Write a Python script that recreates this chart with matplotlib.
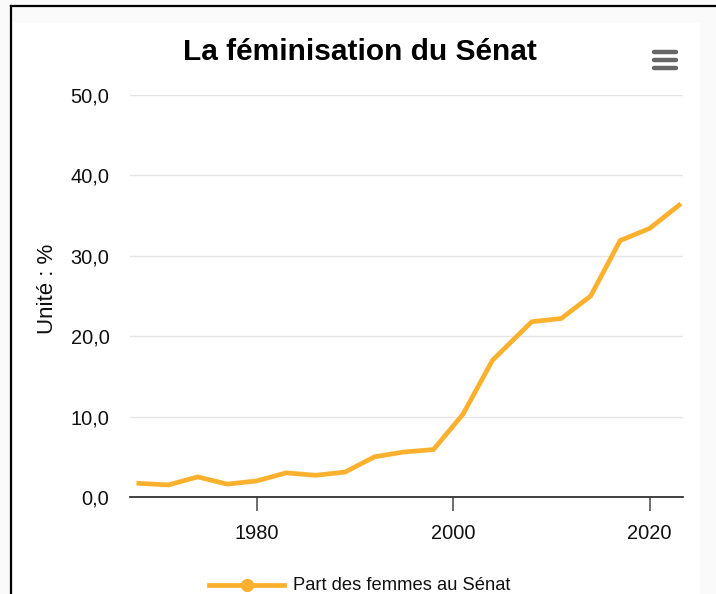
import matplotlib.pyplot as plt
from matplotlib.lines import Line2D
from matplotlib.patches import Rectangle

# Données
annees = [1968, 1971, 1974, 1977, 1980, 1983, 1986, 1989, 1992, 1995,
          1998, 2001, 2004, 2008, 2011, 2014, 2017, 2020, 2023]
part_femmes = [1.7, 1.5, 2.5, 1.6, 2.0, 3.0, 2.7, 3.1, 5.0, 5.6,
               5.9, 10.3, 17.0, 21.8, 22.2, 25.0, 31.9, 33.4, 36.3]
y_ticks = [0, 10, 20, 30, 40, 50]
x_ticks = [1980, 2000, 2020]

plt.rcParams['font.family'] = ['Liberation Sans', 'DejaVu Sans']
orange = '#fbb02e'

fig = plt.figure(figsize=(7.16, 5.94), dpi=100)
fig.patch.set_facecolor('#fafafa')

# zone blanche du graphique + cadre noir
fig.patches.append(Rectangle((13 / 716, 0), (700 - 13) / 716, 1 - 23 / 594,
                             transform=fig.transFigure, facecolor='white',
                             edgecolor='none', zorder=-5))
fig.add_artist(Line2D([11 / 716, 11 / 716], [0, 1 - 6 / 594], color='black',
                      lw=1.6, transform=fig.transFigure))
fig.add_artist(Line2D([11 / 716, 1], [1 - 6 / 594, 1 - 6 / 594], color='black',
                      lw=1.6, transform=fig.transFigure))

ax = fig.add_axes([130 / 716, 1 - 497 / 594, (683 - 130) / 716, (497 - 95) / 594])
ax.set_facecolor('none')
ax.plot(annees, part_femmes, color=orange, lw=3.4, solid_joinstyle='miter', zorder=3)

ax.set_xlim(1967.1, 2023.4)
ax.set_ylim(0, 50)
ax.set_yticks(y_ticks)
ax.set_yticklabels([f"{v:.1f}".replace('.', ',') for v in y_ticks])
ax.set_xticks(x_ticks)
ax.grid(axis='y', color='#e6e6e6', lw=1)
ax.set_axisbelow(True)

for s in ['top', 'right', 'left']:
    ax.spines[s].set_visible(False)
ax.spines['bottom'].set_color('#333333')
ax.spines['bottom'].set_linewidth(1.3)
ax.spines['bottom'].set_zorder(4)

ax.tick_params(axis='y', length=0, pad=14.8, labelsize=14.4, labelcolor='#111111')
ax.tick_params(axis='x', length=10, width=1.2, color='#555555', pad=9.5,
               labelsize=14.4, labelcolor='#111111')

fig.text(47.7 / 716, 1 - 289 / 594, "Unité : %", rotation=90, ha='center',
         va='center', fontsize=16, color='#111111')

fig.text(359.5 / 716, 1 - 52 / 594, "La féminisation du Sénat", ha='center',
         va='center', fontsize=21.5, fontweight='bold', color='black')

# icône menu
for y in [52, 60, 68]:
    fig.add_artist(Line2D([654 / 716, 676 / 716], [1 - y / 594, 1 - y / 594],
                          color='#666666', lw=3.2, solid_capstyle='round',
                          transform=fig.transFigure))

# légende
fig.add_artist(Line2D([209 / 716, 284 / 716], [1 - 585 / 594, 1 - 585 / 594],
                      color=orange, lw=3.4, transform=fig.transFigure))
fig.add_artist(Line2D([247 / 716], [1 - 585 / 594], marker='o', markersize=8.5,
                      color=orange, transform=fig.transFigure))
fig.text(293 / 716, 1 - 585 / 594, "Part des femmes au Sénat", ha='left',
         va='center', fontsize=13.2, color='#111111')

fig.savefig('out.png', dpi=100, facecolor=fig.get_facecolor())
